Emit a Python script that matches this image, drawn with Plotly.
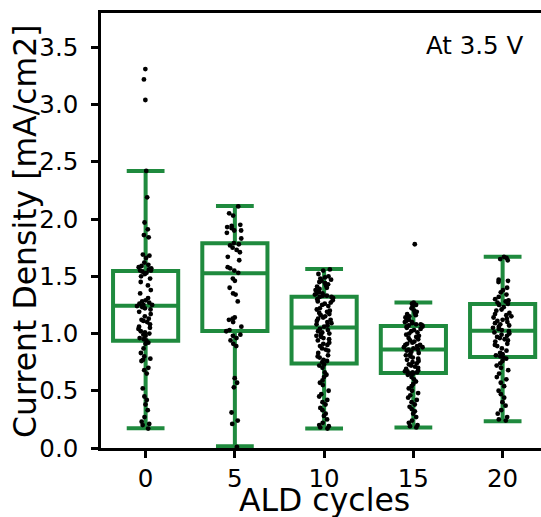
import plotly.graph_objects as go

categories = ["0", "5", "10", "15", "20"]

# Box statistics
q1 = [0.936, 1.021, 0.738, 0.656, 0.796]
median = [1.243, 1.526, 1.053, 0.861, 1.024]
q3 = [1.546, 1.788, 1.321, 1.065, 1.257]
lowerfence = [0.172, 0.015, 0.170, 0.178, 0.234]
upperfence = [2.420, 2.115, 1.563, 1.272, 1.671]

pts_0 = [3.31, 3.22, 3.04, 2.42, 2.19, 1.97, 1.91, 1.86, 1.84, 1.69, 1.68, 1.66, 1.62, 1.60,
         1.59, 1.58, 1.57, 1.56, 1.55, 1.55, 1.54, 1.53, 1.52, 1.50, 1.48, 1.45, 1.42, 1.38,
         1.35, 1.31, 1.29, 1.28, 1.27, 1.26, 1.25, 1.25, 1.24, 1.24, 1.23, 1.22, 1.21, 1.19,
         1.17, 1.15, 1.13, 1.12, 1.11, 1.10, 1.08, 1.06, 1.05, 1.04, 1.02, 1.01, 1.00, 0.99,
         0.98, 0.96, 0.95, 0.94, 0.92, 0.91, 0.87, 0.83, 0.80, 0.78, 0.77, 0.76, 0.70, 0.68,
         0.65, 0.52, 0.45, 0.42, 0.38, 0.33, 0.27, 0.23, 0.21, 0.20, 0.17]
pts_5 = [2.11, 2.05, 2.03, 1.95, 1.94, 1.93, 1.92, 1.90, 1.90, 1.88, 1.83, 1.79, 1.78, 1.77,
         1.75, 1.73, 1.71, 1.67, 1.64, 1.58, 1.57, 1.55, 1.53, 1.48, 1.46, 1.40, 1.35, 1.34,
         1.28, 1.14, 1.13, 1.12, 1.10, 1.06, 1.03, 1.02, 0.99, 0.98, 0.96, 0.94, 0.91, 0.89,
         0.61, 0.57, 0.53, 0.31, 0.24, 0.21, 0.01]
pts_10 = [1.56, 1.55, 1.52, 1.50, 1.49, 1.48, 1.47, 1.46, 1.45, 1.44, 1.43, 1.42, 1.41, 1.40,
          1.39, 1.38, 1.37, 1.36, 1.35, 1.35, 1.34, 1.33, 1.33, 1.32, 1.32,
          1.31, 1.30, 1.29, 1.28, 1.27, 1.26, 1.25, 1.24, 1.22, 1.21, 1.20, 1.19, 1.18, 1.17,
          1.16, 1.15, 1.14, 1.13, 1.12, 1.11, 1.10, 1.09, 1.08, 1.07, 1.06,
          1.04, 1.03, 1.02, 1.01, 1.00, 0.99, 0.98, 0.97, 0.96, 0.95, 0.94, 0.92, 0.91, 0.90,
          0.89, 0.87, 0.86, 0.85, 0.83, 0.81, 0.80, 0.79, 0.77, 0.76, 0.75,
          0.73, 0.72, 0.70, 0.66, 0.64, 0.62, 0.59, 0.57, 0.55, 0.50, 0.47, 0.45, 0.42, 0.40,
          0.38, 0.35, 0.33, 0.30, 0.28, 0.25, 0.22, 0.20, 0.19, 0.18, 0.17]
pts_15 = [1.78,
          1.27, 1.26, 1.25, 1.23, 1.22, 1.20, 1.19, 1.18, 1.17, 1.16, 1.15, 1.14, 1.13, 1.12,
          1.11, 1.10, 1.10, 1.09, 1.08, 1.08, 1.07, 1.07, 1.06, 1.06,
          1.05, 1.04, 1.03, 1.02, 1.01, 1.00, 0.99, 0.98, 0.97, 0.96, 0.95, 0.94, 0.93, 0.92,
          0.91, 0.90, 0.90, 0.89, 0.88, 0.88, 0.87, 0.87, 0.86, 0.86,
          0.85, 0.84, 0.83, 0.82, 0.81, 0.80, 0.79, 0.78, 0.77, 0.76, 0.75, 0.74, 0.73, 0.72,
          0.71, 0.70, 0.69, 0.68, 0.67, 0.67, 0.66, 0.66, 0.65, 0.65,
          0.64, 0.62, 0.60, 0.58, 0.56, 0.54, 0.52, 0.50, 0.48, 0.46, 0.44, 0.42, 0.40, 0.38,
          0.36, 0.34, 0.32, 0.30, 0.27, 0.24, 0.22, 0.20, 0.19, 0.18]
pts_20 = [1.67, 1.66, 1.65, 1.64, 1.47, 1.46, 1.45, 1.40, 1.38, 1.36, 1.34, 1.32, 1.30, 1.29,
          1.28, 1.27, 1.26, 1.25, 1.23, 1.21, 1.20, 1.18, 1.17, 1.16, 1.15, 1.14, 1.13, 1.12,
          1.11, 1.10, 1.09, 1.08, 1.07, 1.06, 1.05, 1.04, 1.03, 1.02, 1.01, 1.00, 0.99, 0.98,
          0.97, 0.96, 0.95, 0.94, 0.93, 0.91, 0.90, 0.89, 0.87, 0.85, 0.83, 0.82, 0.81, 0.80,
          0.79, 0.78, 0.76, 0.74, 0.72, 0.70, 0.68, 0.65, 0.62, 0.60, 0.57, 0.54, 0.50, 0.47,
          0.44, 0.40, 0.37, 0.33, 0.30, 0.27, 0.25, 0.24]
points = [pts_0, pts_5, pts_10, pts_15, pts_20]

GREEN = "#1f8a3e"
FONT = "DejaVu Sans"

fig = go.Figure()
for i, cat in enumerate(categories):
    fig.add_trace(go.Box(
        x=[cat], q1=[q1[i]], median=[median[i]], q3=[q3[i]],
        lowerfence=[lowerfence[i]], upperfence=[upperfence[i]],
        width=0.73, whiskerwidth=0.58,
        line=dict(color=GREEN, width=4), fillcolor="rgba(0,0,0,0)",
        boxpoints=False, showlegend=False, hoverinfo="skip",
    ))
for i, cat in enumerate(categories):
    fig.add_trace(go.Box(
        x=[cat] * len(points[i]), y=points[i],
        width=0.73, boxpoints="all", pointpos=0, jitter=0.3,
        line=dict(width=0, color="rgba(0,0,0,0)"), fillcolor="rgba(0,0,0,0)",
        marker=dict(color="black", size=4.8),
        showlegend=False,
    ))

fig.update_layout(
    width=541, height=517,
    margin=dict(l=101, r=0, t=13, b=69),
    paper_bgcolor="white", plot_bgcolor="white",
    boxmode="overlay",
    font=dict(family=FONT, color="black", size=24.5),
    xaxis=dict(
        type="category", categoryorder="array", categoryarray=categories,
        range=[-0.5, 4.43], automargin=False,
        showline=True, linecolor="black", linewidth=3, mirror=True,
        ticks="outside", ticklen=7, tickwidth=2.5, tickcolor="black",
        showgrid=False, zeroline=False, tickfont=dict(size=24.5),
    ),
    yaxis=dict(
        range=[0, 3.8], dtick=0.5, tick0=0, tickformat=".1f", automargin=False,
        ticksuffix="\u00a0",
        showline=True, linecolor="black", linewidth=3, mirror=False,
        ticks="outside", ticklen=7, tickwidth=2.5, tickcolor="black",
        showgrid=False, zeroline=False, tickfont=dict(size=24.5),
    ),
    annotations=[
        dict(
            text="At 3.5 V", xref="paper", yref="paper", x=0.9636, y=0.925,
            xanchor="right", yanchor="middle", showarrow=False,
            font=dict(size=24.5, color="black", family=FONT),
        ),
        dict(
            text="ALD cycles", xref="paper", yref="paper", x=0.507, y=-0.12,
            xanchor="center", yanchor="middle", showarrow=False,
            font=dict(size=31.5, color="black", family=FONT),
        ),
        dict(
            text="Current Density [mA/cm2]", xref="paper", yref="paper",
            x=-0.174, y=0.5, textangle=-90,
            xanchor="center", yanchor="middle", showarrow=False,
            font=dict(size=31.5, color="black", family=FONT),
        ),
    ],
)

fig.write_html("out.html")
